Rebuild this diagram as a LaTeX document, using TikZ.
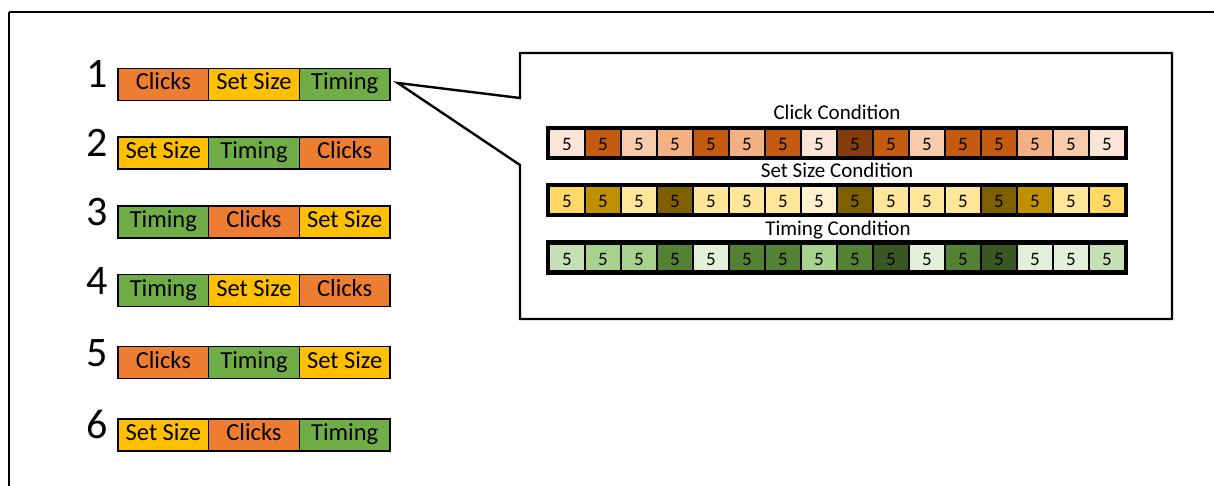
\documentclass[tikz,border=0pt]{standalone}
\usepackage{fontspec}
\setmainfont{Carlito}
\usetikzlibrary{calc}

% block colours
\definecolor{ClicksOr}{HTML}{ED7D31}
\definecolor{SetSizeYe}{HTML}{FFC000}
\definecolor{TimingGr}{HTML}{70AD47}
% click condition shades
\definecolor{ClkA}{HTML}{FBE5D6}
\definecolor{ClkB}{HTML}{F8CBAD}
\definecolor{ClkC}{HTML}{F4B183}
\definecolor{ClkD}{HTML}{C55A11}
\definecolor{ClkE}{HTML}{843C0C}
% set size condition shades
\definecolor{SetA}{HTML}{FFF2CC}
\definecolor{SetB}{HTML}{FFE699}
\definecolor{SetC}{HTML}{FFD966}
\definecolor{SetD}{HTML}{BF9000}
\definecolor{SetE}{HTML}{7F6000}
% timing condition shades
\definecolor{TimA}{HTML}{E2F0D9}
\definecolor{TimB}{HTML}{C5E0B4}
\definecolor{TimC}{HTML}{A9D18E}
\definecolor{TimD}{HTML}{548235}
\definecolor{TimE}{HTML}{385723}

\begin{document}
\begin{tikzpicture}[x=1pt,y=-1pt,
  blockseg/.style={draw=black, line width=1.6pt, minimum width=90.67pt,
    minimum height=32pt, inner sep=0pt, text height=16pt, text depth=5pt,
    font=\fontsize{24.5}{24.5}\selectfont},
  ordernum/.style={anchor=base, inner sep=0pt, font=\fontsize{42}{42}\selectfont},
  trialcell/.style={draw=black, line width=2.6pt, minimum width=36pt,
    minimum height=28pt, inner sep=0pt, text height=16pt, text depth=0pt,
    font=\fontsize{19}{19}\selectfont},
  condtitle/.style={anchor=base, inner sep=0pt, font=\fontsize{21}{21}\selectfont},
  rowframe/.style={draw=black, line width=3.4pt},
  callout/.style={draw=black, line width=2.4pt, line join=miter},
]
\useasboundingbox (0,0) rectangle (1214,486);

% page frame (top and left edges)
\draw[line width=1.2pt] (9,12) -- (1214,12);
\draw[line width=2.2pt] (9,12) -- (9,486);

% six block orders
\foreach \n/\yc/\a/\ca/\b/\cb/\c/\cc in {
  1/84.5/Clicks/ClicksOr/Set Size/SetSizeYe/Timing/TimingGr,
  2/153/Set Size/SetSizeYe/Timing/TimingGr/Clicks/ClicksOr,
  3/222/Timing/TimingGr/Clicks/ClicksOr/Set Size/SetSizeYe,
  4/290.5/Timing/TimingGr/Set Size/SetSizeYe/Clicks/ClicksOr,
  5/362.5/Clicks/ClicksOr/Timing/TimingGr/Set Size/SetSizeYe,
  6/435/Set Size/SetSizeYe/Clicks/ClicksOr/Timing/TimingGr}{
  \node[blockseg, fill=\ca] (r\n a) at (163.33,\yc) {\a};
  \node[blockseg, fill=\cb] (r\n b) at (254,\yc) {\b};
  \node[blockseg, fill=\cc] (r\n c) at (344.67,\yc) {\c};
  \node[ordernum] (num\n) at (97,\yc+3.5) {\n};
}

% callout box pointing at order 1
\coordinate (tip) at ($(r1c.east)+(7,-1.5)$);
\coordinate (boxtl) at (520,53);
\coordinate (boxtr) at (1172,53);
\coordinate (boxbr) at (1172,319);
\coordinate (boxbl) at (520,319);
\draw[callout] (520,98) -- (boxtl) -- (boxtr) -- (boxbr) -- (boxbl)
  -- (520,165) -- (tip) -- cycle;

% click condition trials
\foreach \col [count=\i] in {ClkA,ClkD,ClkB,ClkC,ClkD,ClkC,ClkD,ClkA,
                             ClkE,ClkD,ClkB,ClkD,ClkD,ClkC,ClkB,ClkA}
  \node[trialcell, fill=\col] (k\i) at ({549+36*(\i-0.5)},143) {5};
\draw[rowframe] (k1.north west) rectangle (k16.south east);
\node[condtitle] (ktitle) at ($(k1.north west)!0.5!(k16.north east)+(0,-8)$) {Click Condition};

% set size condition trials
\foreach \col [count=\i] in {SetC,SetD,SetB,SetE,SetB,SetB,SetB,SetA,
                             SetE,SetB,SetB,SetB,SetE,SetD,SetB,SetC}
  \node[trialcell, fill=\col] (s\i) at ({549+36*(\i-0.5)},200) {5};
\draw[rowframe] (s1.north west) rectangle (s16.south east);
\node[condtitle] (stitle) at ($(s1.north west)!0.5!(s16.north east)+(0,-7)$) {Set Size Condition};

% timing condition trials
\foreach \col [count=\i] in {TimB,TimC,TimC,TimD,TimA,TimD,TimD,TimC,
                             TimD,TimE,TimA,TimD,TimE,TimA,TimA,TimB}
  \node[trialcell, fill=\col] (t\i) at ({549+36*(\i-0.5)},257.5) {5};
\draw[rowframe] (t1.north west) rectangle (t16.south east);
\node[condtitle] (ttitle) at ($(t1.north west)!0.5!(t16.north east)+(1,-6.5)$) {Timing Condition};
\end{tikzpicture}
\end{document}
